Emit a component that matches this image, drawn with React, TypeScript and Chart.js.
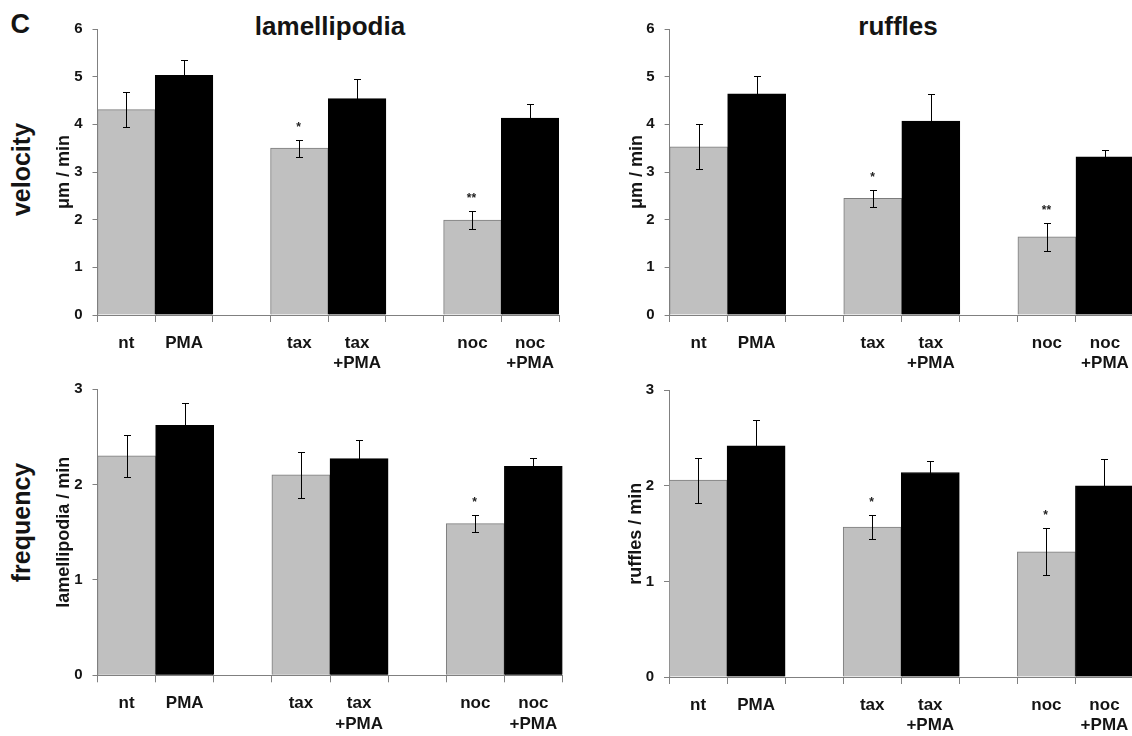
import React, { useEffect, useRef } from "react";
import { Chart, registerables } from "chart.js";

Chart.register(...registerables);

// ---------- data ----------
const X_LABELS: (string | string[])[] = ["nt", "PMA", "", "tax", ["tax", "+PMA"], "", "noc", ["noc", "+PMA"]];

// velocity, lamellipodia (µm / min)
const velLamMean = [4.31, 5.03, null, 3.5, 4.54, null, 1.99, 4.13];
const velLamErr = [0.36, 0.33, null, 0.18, 0.41, null, 0.19, 0.3];
const velLamSig = ["", "", "", "*", "", "", "**", ""];

// velocity, ruffles (µm / min)
const velRufMean = [3.53, 4.64, null, 2.45, 4.07, null, 1.64, 3.32];
const velRufErr = [0.47, 0.38, null, 0.18, 0.57, null, 0.3, 0.14];
const velRufSig = ["", "", "", "*", "", "", "**", ""];

// frequency, lamellipodia (lamellipodia / min)
const freqLamMean = [2.3, 2.62, null, 2.1, 2.27, null, 1.59, 2.19];
const freqLamErr = [0.22, 0.23, null, 0.24, 0.2, null, 0.09, 0.09];
const freqLamSig = ["", "", "", "", "", "", "*", ""];

// frequency, ruffles (ruffles / min)
const freqRufMean = [2.06, 2.42, null, 1.57, 2.14, null, 1.31, 2.0];
const freqRufErr = [0.235, 0.27, null, 0.13, 0.12, null, 0.245, 0.28];
const freqRufSig = ["", "", "", "*", "", "", "*", ""];

const VEL_MAX = 6;
const FREQ_MAX = 3;

// ---------- style ----------
const FONT = "'Liberation Sans', Arial, Helvetica, sans-serif";
const TEXT = "#141414";
const AXIS = "#808080";
const GRAY = "#c0c0c0";
const GRAY_EDGE = "#7c7c7c";
const BLACK = "#000000";

Chart.defaults.font.family = FONT;

const isPMA = (l: string | string[]) => (Array.isArray(l) ? l.join(" ") : l).includes("PMA");

type Geom = { l: number; r: number; t: number; b: number };

const Y_BOX = 43.8;

function makeErrPlugin(err: (number | null)[], sig: string[]) {
  return {
    id: "errbars",
    afterDatasetsDraw(chart: any) {
      const meta = chart.getDatasetMeta(0);
      const ys = chart.scales.y;
      const ctx = chart.ctx;
      const vals = chart.data.datasets[0].data;
      ctx.save();
      ctx.strokeStyle = "#000000";
      ctx.lineWidth = 1;
      meta.data.forEach((bar: any, i: number) => {
        const m = vals[i];
        const e = err[i];
        if (m == null || e == null) return;
        const x = Math.round(bar.x) + 0.5;
        const yt = Math.round(ys.getPixelForValue(m + e)) + 0.5;
        const yb = Math.round(ys.getPixelForValue(m - e)) + 0.5;
        ctx.beginPath();
        ctx.moveTo(x, yt);
        ctx.lineTo(x, yb);
        ctx.moveTo(x - 3.5, yt);
        ctx.lineTo(x + 3.5, yt);
        ctx.moveTo(x - 3.5, yb);
        ctx.lineTo(x + 3.5, yb);
        ctx.stroke();
        if (sig[i]) {
          ctx.fillStyle = "#222";
          ctx.font = `bold 12px ${FONT}`;
          ctx.textAlign = "center";
          ctx.textBaseline = "alphabetic";
          ctx.fillText(sig[i], x - 1, yt - 10);
        }
      });
      ctx.restore();
    },
  };
}

function Panel(props: {
  geom: Geom;
  mean: (number | null)[];
  err: (number | null)[];
  sig: string[];
  yMax: number;
  yTitle: string;
}) {
  const { geom, mean, err, sig, yMax, yTitle } = props;
  const ref = useRef<HTMLCanvasElement | null>(null);
  const cLeft = Math.floor(geom.l) - 60;
  const cTop = Math.floor(geom.t) - 30;
  const w = Math.ceil(geom.r) - cLeft + 12;
  const h = Math.ceil(geom.b) - cTop + 62;

  useEffect(() => {
    if (!ref.current) return;
    const xH = cTop + h - geom.b;
    const chart = new Chart(ref.current, {
      type: "bar",
      data: {
        labels: X_LABELS as any,
        datasets: [
          {
            data: mean as any,
            backgroundColor: X_LABELS.map((l) => (isPMA(l) ? BLACK : GRAY)),
            borderColor: X_LABELS.map((l) => (isPMA(l) ? BLACK : GRAY_EDGE)),
            borderWidth: 1,
            barPercentage: 1,
            categoryPercentage: 1,
          },
        ],
      },
      options: {
        responsive: false,
        animation: false,
        devicePixelRatio: 1,
        layout: {
          padding: {
            left: geom.l - Y_BOX - cLeft,
            top: geom.t - cTop,
            right: cLeft + w - geom.r,
            bottom: 0,
          },
        },
        plugins: {
          legend: { display: false },
          tooltip: { enabled: false },
          title: { display: false },
        },
        scales: {
          x: {
            offset: true,
            grid: {
              offset: true,
              drawOnChartArea: false,
              drawTicks: true,
              tickLength: 7,
              color: AXIS,
              lineWidth: 1,
            },
            border: { display: true, color: AXIS, width: 1 },
            ticks: {
              autoSkip: false,
              maxRotation: 0,
              minRotation: 0,
              padding: 11,
              color: TEXT,
              font: { size: 17, weight: "bold", family: FONT },
            },
            afterFit: (s: any) => {
              s.height = xH;
              s.paddingLeft = 0;
              s.paddingRight = 0;
            },
          },
          y: {
            min: 0,
            max: yMax,
            ticks: {
              stepSize: 1,
              padding: 10,
              color: TEXT,
              font: { size: 15, weight: "bold", family: FONT },
            },
            grid: { drawOnChartArea: false, drawTicks: true, tickLength: 5, color: AXIS },
            border: { display: true, color: AXIS, width: 1 },
            title: {
              display: true,
              text: yTitle,
              padding: 0,
              color: TEXT,
              font: { size: 18, weight: "bold", family: FONT },
            },
            afterFit: (s: any) => {
              s.width = Y_BOX;
              s.paddingTop = 0;
              s.paddingBottom = 0;
            },
          },
        },
      } as any,
      plugins: [makeErrPlugin(err, sig)],
    });
    return () => chart.destroy();
  }, []);

  return (
    <canvas
      ref={ref}
      width={w}
      height={h}
      style={{ position: "absolute", left: cLeft, top: cTop, width: w, height: h }}
    />
  );
}

const TL: Geom = { l: 97.5, r: 559, t: 29, b: 315 };
const TR: Geom = { l: 669.6, r: 1134, t: 29, b: 315 };
const BL: Geom = { l: 97.5, r: 562.5, t: 389, b: 675.3 };
const BR: Geom = { l: 669, r: 1133.5, t: 390.3, b: 677 };

function RotLabel(props: { text: string; cx: number; cy: number; size: number }) {
  const { text, cx, cy, size } = props;
  return (
    <div
      style={{
        position: "absolute",
        left: cx - 100,
        top: cy - size / 2,
        width: 200,
        height: size,
        lineHeight: `${size}px`,
        fontSize: size,
        fontWeight: "bold",
        textAlign: "center",
        color: TEXT,
        transform: "rotate(-90deg)",
        transformOrigin: "50% 50%",
        whiteSpace: "nowrap",
      }}
    >
      {text}
    </div>
  );
}

function Title(props: { text: string; cx: number; top: number }) {
  return (
    <div
      style={{
        position: "absolute",
        left: props.cx - 150,
        top: props.top,
        width: 300,
        height: 26,
        lineHeight: "26px",
        fontSize: 26,
        fontWeight: "bold",
        textAlign: "center",
        color: TEXT,
        whiteSpace: "nowrap",
      }}
    >
      {props.text}
    </div>
  );
}

export default function App() {
  return (
    <div
      style={{
        position: "fixed",
        left: 0,
        top: 0,
        width: 1132,
        height: 736,
        overflow: "hidden",
        background: "#ffffff",
        fontFamily: FONT,
      }}
    >
      <div
        style={{
          position: "absolute",
          left: 10.4,
          top: 10.5,
          fontSize: 27,
          lineHeight: "27px",
          fontWeight: "bold",
          color: TEXT,
        }}
      >
        C
      </div>
      <Title text="lamellipodia" cx={330} top={13} />
      <Title text="ruffles" cx={898} top={13} />
      <RotLabel text="velocity" cx={21.3} cy={169} size={25} />
      <RotLabel text="frequency" cx={21.3} cy={522} size={25} />
      <Panel geom={TL} mean={velLamMean} err={velLamErr} sig={velLamSig} yMax={VEL_MAX} yTitle="μm / min" />
      <Panel geom={TR} mean={velRufMean} err={velRufErr} sig={velRufSig} yMax={VEL_MAX} yTitle="μm / min" />
      <Panel geom={BL} mean={freqLamMean} err={freqLamErr} sig={freqLamSig} yMax={FREQ_MAX} yTitle="lamellipodia / min" />
      <Panel geom={BR} mean={freqRufMean} err={freqRufErr} sig={freqRufSig} yMax={FREQ_MAX} yTitle="ruffles / min" />
    </div>
  );
}
